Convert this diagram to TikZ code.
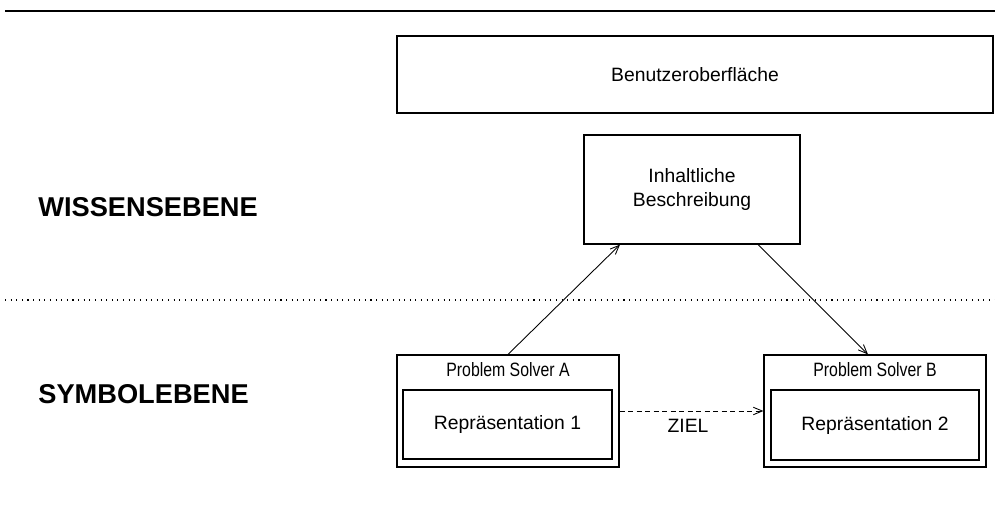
\documentclass[tikz,border=0pt]{standalone}
\usepackage{fontspec}
\setmainfont{Liberation Sans}
\newfontfamily\narrowsf[FakeStretch=0.82]{Liberation Sans}
\usetikzlibrary{arrows.meta}

\begin{document}
\begin{tikzpicture}[x=0.02cm, y=-0.02cm,
    box/.style={draw, line width=0.7pt, inner sep=0pt, font=\fontsize{11}{13.6}\selectfont},
    levellabel/.style={anchor=west, inner sep=0pt, font=\fontsize{15.5}{18}\selectfont\bfseries},
    solverlabel/.style={inner sep=0pt, font=\fontsize{11}{13}\selectfont\narrowsf},
    link/.style={-{Straight Barb[length=1.8mm,width=1.5mm]}, line width=0.5pt},
    goal/.style={link, dash pattern=on 1mm off 0.7mm}]
  \useasboundingbox (0, 0) rectangle (995, 518);

  % Draw the separating lines
  \draw[line width=1.4pt] (5, 11) -- (995, 11);
  \draw[line width=0.6pt, dash pattern=on 0.6pt off 2.6pt] (5, 300) -- (995, 300);

  % Level labels
  \node[levellabel] (wissen) at (38, 207.5) {WISSENSEBENE};
  \node[levellabel] (symbol) at (38, 394) {SYMBOLEBENE};

  % Knowledge level boxes
  \node[box, minimum width=11.92cm, minimum height=1.54cm] (ui) at (695, 74.5) {Benutzeroberfläche};
  \node[box, minimum width=4.32cm, minimum height=2.18cm, align=center] (inh) at (692, 189.5) {Inhaltliche\\Beschreibung};

  % Problem solver A
  \node[box, minimum width=4.44cm, minimum height=2.24cm] (psA) at (508, 411) {};
  \node[solverlabel] (labA) at (508, 370) {Problem Solver A};
  \node[box, minimum width=4.18cm, minimum height=1.38cm] (repA) at (507.5, 424.5) {Repräsentation 1};

  % Problem solver B
  \node[box, minimum width=4.44cm, minimum height=2.24cm] (psB) at (875, 411) {};
  \node[solverlabel] (labB) at (875, 370) {Problem Solver B};
  \node[box, minimum width=4.16cm, minimum height=1.4cm] (repB) at (875, 425) {Repräsentation 2};

  % Draw the arrows between the nodes
  \draw[link] (psA.north) -- ([xshift=-1.44cm]inh.south);
  \draw[link] ([xshift=1.32cm]inh.south) -- ([xshift=-0.14cm]psB.north);
  \draw[goal] (psA.east) -- (psB.west);
  \node[inner sep=0pt, font=\fontsize{11}{13}\selectfont] (ziel) at (688, 426) {ZIEL};
\end{tikzpicture}
\end{document}
